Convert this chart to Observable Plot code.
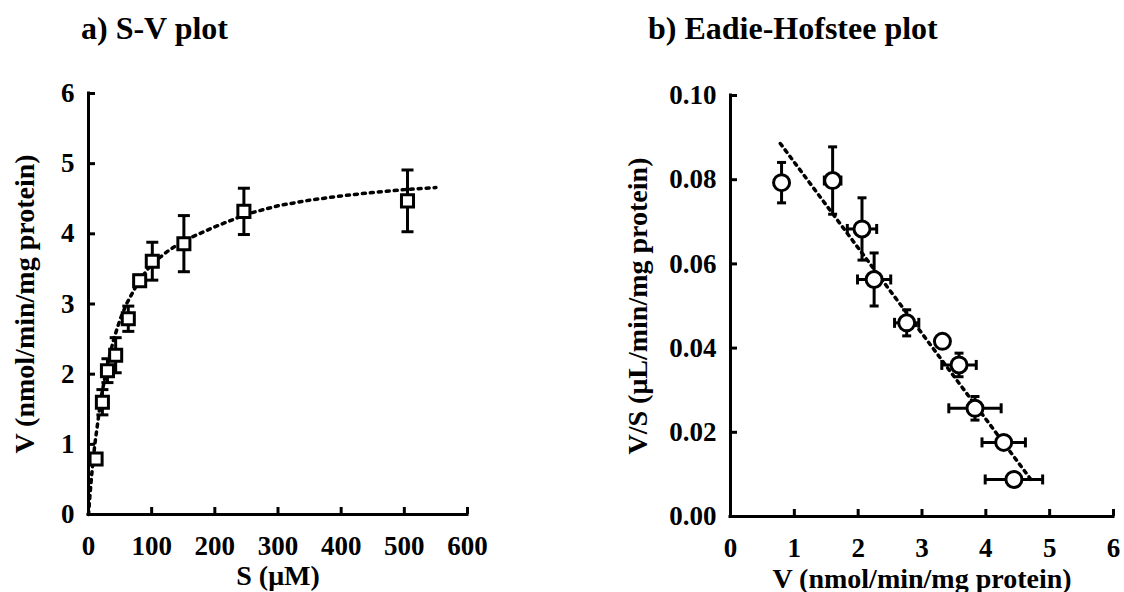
<!DOCTYPE html>
<html>
<head>
<meta charset="utf-8">
<script src="https://cdn.jsdelivr.net/npm/d3@7"></script>
<script src="https://cdn.jsdelivr.net/npm/@observablehq/plot@0.6"></script>
<style>
  html, body { margin: 0; padding: 0; background: #fff; }
  #wrap { position: relative; width: 1124px; height: 592px; overflow: hidden; font-family: "Liberation Serif", serif; }
  .title { position: absolute; top: 12px; font-size: 32px; font-weight: bold; line-height: 32px; color: #000; white-space: nowrap; }
  .panel { position: absolute; top: 60px; }
</style>
</head>
<body>
<div id="wrap">
  <div class="title" style="left:81px">a) S-V plot</div>
  <div class="title" style="left:648px">b) Eadie-Hofstee plot</div>
  <div class="panel" id="left" style="left:0px"></div>
  <div class="panel" id="right" style="left:562px"></div>
</div>
<script>
// ---- Panel a: S-V plot ----
const sValues = [12, 22, 30, 43, 63, 81, 101, 151, 246, 505];
const vValues = [0.79, 1.60, 2.05, 2.27, 2.79, 3.33, 3.61, 3.86, 4.32, 4.47];
const vErr    = [0.05, 0.18, 0.17, 0.25, 0.18, 0.08, 0.27, 0.40, 0.33, 0.44];
const curveS  = [0, 2, 5, 10, 20, 30, 40, 50, 60, 80, 100, 125, 150, 200, 250, 300, 350, 400, 450, 500, 550];
const curveV  = [0, 0.24, 0.56, 1.0, 1.67, 2.14, 2.5, 2.78, 3.0, 3.33, 3.57, 3.75, 3.9, 4.1, 4.28, 4.4, 4.48, 4.54, 4.59, 4.63, 4.66];
const svXTicks = [0, 100, 200, 300, 400, 500, 600];
const svYTicks = [0, 1, 2, 3, 4, 5, 6];
const svXLabel = "S (\u03bcM)";
const svYLabel = "V (nmol/min/mg protein)";

// ---- Panel b: Eadie-Hofstee plot ----
const ehV      = [0.80, 1.60, 2.06, 2.25, 2.76, 3.32, 3.58, 3.83, 4.28, 4.44];
const ehVS     = [0.0793, 0.0798, 0.0683, 0.0563, 0.0460, 0.0416, 0.0360, 0.0257, 0.0176, 0.0088];
const ehVErr   = [0.03, 0.13, 0.23, 0.26, 0.19, 0.05, 0.27, 0.41, 0.34, 0.45];
const ehVSErr  = [0.0048, 0.0080, 0.0074, 0.0063, 0.0031, 0.0010, 0.0028, 0.0028, 0.0012, 0.0012];
const ehLineV  = [0.78, 4.73];
const ehLineVS = [0.0886, 0.0083];
const ehXTicks = [0, 1, 2, 3, 4, 5, 6];
const ehYTicks = [0, 0.02, 0.04, 0.06, 0.08, 0.10];
const ehXLabel = "V (nmol/min/mg protein)";
const ehYLabel = "V/S (\u03bcL/min/mg protein)";

const svData = sValues.map((s, i) => ({s, v: vValues[i], lo: vValues[i] - vErr[i], hi: vValues[i] + vErr[i]}));
const curve = curveS.map((s, i) => ({s, v: curveV[i]}));
const ehData = ehV.map((v, i) => ({
  v, vs: ehVS[i],
  xlo: v - ehVErr[i], xhi: v + ehVErr[i],
  ylo: ehVS[i] - ehVSErr[i], yhi: ehVS[i] + ehVSErr[i]
}));
const ehLine = ehLineV.map((v, i) => ({v, vs: ehLineVS[i]}));

function capH(w) { return {draw(ctx) { ctx.moveTo(-w, 0); ctx.lineTo(w, 0); }}; }
function capV(w) { return {draw(ctx) { ctx.moveTo(0, -w); ctx.lineTo(0, w); }}; }

const font = {fontFamily: "'Liberation Serif', serif", fontSize: "27px", fontWeight: "bold", color: "#000", background: "#fff", overflow: "visible"};

const left = Plot.plot({
  width: 562, height: 532,
  marginLeft: 88, marginRight: 95, marginTop: 33, marginBottom: 78,
  style: font,
  x: {domain: [0, 600]},
  y: {domain: [0, 6]},
  marks: [
    Plot.line(curve, {x: "s", y: "v", stroke: "#000", strokeWidth: 3.5, strokeDasharray: "3,5"}),
    Plot.ruleX(svData, {x: "s", y1: "lo", y2: "hi", stroke: "#000", strokeWidth: 3}),
    Plot.dot(svData, {x: "s", y: "hi", symbol: capH(6), stroke: "#000", fill: "none", strokeWidth: 3}),
    Plot.dot(svData, {x: "s", y: "lo", symbol: capH(6), stroke: "#000", fill: "none", strokeWidth: 3}),
    Plot.dot(svData, {x: "s", y: "v", symbol: "square", r: 6.8, stroke: "#000", fill: "#fff", strokeWidth: 3}),
    Plot.axisX(svXTicks, {tickSize: 7, dy: -7, strokeWidth: 3, fill: "none", label: null}),
    Plot.axisY(svYTicks, {tickSize: 7, dx: 7, strokeWidth: 3, fill: "none", label: null}),
    Plot.axisX(svXTicks, {tickSize: 0, tickPadding: 21, label: null, tickFormat: d3.format("d"), fontSize: 27, fontWeight: "bold"}),
    Plot.axisY(svYTicks, {tickSize: 0, tickPadding: 14, label: null, tickFormat: d3.format("d"), fontSize: 27, fontWeight: "bold"}),
    Plot.ruleY([0], {stroke: "#000", strokeWidth: 3, strokeLinecap: "square"}),
    Plot.ruleX([0], {stroke: "#000", strokeWidth: 3, strokeLinecap: "square"}),
    Plot.text([svXLabel], {text: d => d, frameAnchor: "bottom", dy: 70, lineAnchor: "bottom", textAnchor: "middle", fontSize: 28, fontWeight: "bold"}),
    Plot.text([svYLabel], {text: d => d, frameAnchor: "left", dx: -55, rotate: -90, lineAnchor: "bottom", textAnchor: "middle", fontSize: 28, fontWeight: "bold"})
  ]
});
document.getElementById("left").appendChild(left);

const right = Plot.plot({
  width: 562, height: 532,
  marginLeft: 168, marginRight: 11, marginTop: 35, marginBottom: 76,
  style: font,
  x: {domain: [0, 6]},
  y: {domain: [0, 0.1]},
  marks: [
    Plot.line(ehLine, {x: "v", y: "vs", stroke: "#000", strokeWidth: 3.5, strokeDasharray: "3,5"}),
    Plot.ruleX(ehData, {x: "v", y1: "ylo", y2: "yhi", stroke: "#000", strokeWidth: 3}),
    Plot.ruleY(ehData, {y: "vs", x1: "xlo", x2: "xhi", stroke: "#000", strokeWidth: 3}),
    Plot.dot(ehData, {x: "v", y: "yhi", symbol: capH(4.5), stroke: "#000", fill: "none", strokeWidth: 3}),
    Plot.dot(ehData, {x: "v", y: "ylo", symbol: capH(4.5), stroke: "#000", fill: "none", strokeWidth: 3}),
    Plot.dot(ehData, {x: "xlo", y: "vs", symbol: capV(5), stroke: "#000", fill: "none", strokeWidth: 3}),
    Plot.dot(ehData, {x: "xhi", y: "vs", symbol: capV(5), stroke: "#000", fill: "none", strokeWidth: 3}),
    Plot.dot(ehData, {x: "v", y: "vs", symbol: "circle", r: 8, stroke: "#000", fill: "#fff", strokeWidth: 3}),
    Plot.axisX(ehXTicks, {tickSize: 7, dy: -7, strokeWidth: 3, fill: "none", label: null}),
    Plot.axisY(ehYTicks, {tickSize: 7, dx: 7, strokeWidth: 3, fill: "none", label: null}),
    Plot.axisX(ehXTicks, {tickSize: 0, tickPadding: 21, label: null, tickFormat: d3.format("d"), fontSize: 27, fontWeight: "bold"}),
    Plot.axisY(ehYTicks, {tickSize: 0, tickPadding: 14, label: null, tickFormat: d3.format(".2f"), fontSize: 27, fontWeight: "bold"}),
    Plot.ruleY([0], {stroke: "#000", strokeWidth: 3, strokeLinecap: "square"}),
    Plot.ruleX([0], {stroke: "#000", strokeWidth: 3, strokeLinecap: "square"}),
    Plot.text([ehXLabel], {text: d => d, frameAnchor: "bottom", dy: 71, lineAnchor: "bottom", textAnchor: "middle", fontSize: 28, fontWeight: "bold"}),
    Plot.text([ehYLabel], {text: d => d, frameAnchor: "left", dx: -84, rotate: -90, lineAnchor: "bottom", textAnchor: "middle", fontSize: 28, fontWeight: "bold"})
  ]
});
document.getElementById("right").appendChild(right);
</script>
</body>
</html>
